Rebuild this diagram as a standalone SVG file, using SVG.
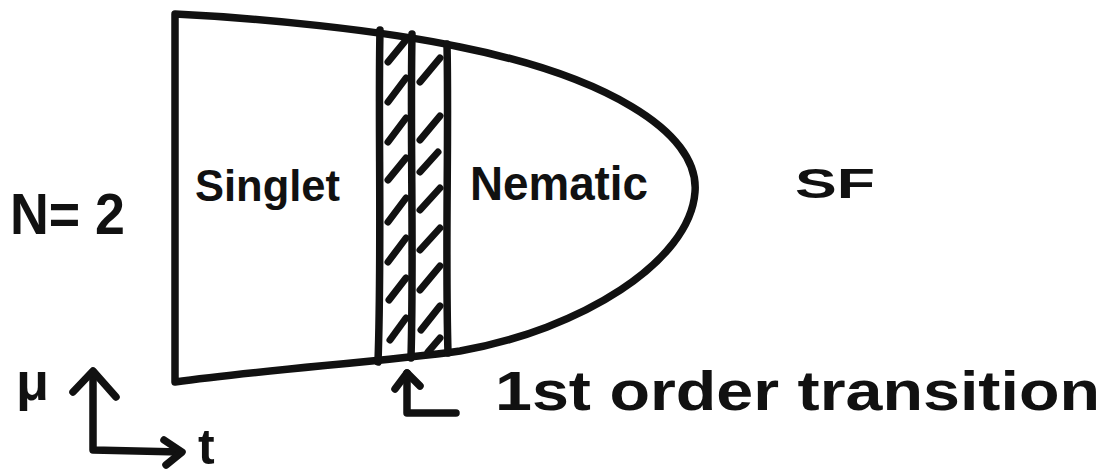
<svg xmlns="http://www.w3.org/2000/svg" width="1108" height="476" viewBox="0 0 1108 476">
<style>
.ln{fill:none;stroke:#111;stroke-width:7.5;stroke-linecap:round;stroke-linejoin:round}
.ht{fill:none;stroke:#111;stroke-width:7;stroke-linecap:round}
.tx{font-family:"Liberation Sans",Arial,sans-serif;font-weight:bold;fill:#111}
</style>
<rect width="1108" height="476" fill="#fff"/>
<g id="phase-boundary">
<path class="ln" d="M175,14 C260,18 380,30 460,47 C600,75 700,130 695,192 C690,262 580,330 460,351 C380,362 260,370 175,382 Z"/>
</g>
<g id="transition-strip">
<path class="ln" d="M380,30 C378,120 382,250 378,362"/>
<path class="ln" d="M412,34 C410,140 414,250 411,358"/>
<path class="ln" d="M447,44 C449,140 445,250 448,353"/>
<g class="ht">
<line x1="388" y1="62" x2="406" y2="40"/>
<line x1="388" y1="102" x2="406" y2="78"/>
<line x1="388" y1="142" x2="406" y2="118"/>
<line x1="388" y1="180" x2="406" y2="158"/>
<line x1="388" y1="222" x2="406" y2="198"/>
<line x1="388" y1="262" x2="406" y2="238"/>
<line x1="389" y1="300" x2="406" y2="278"/>
<line x1="390" y1="340" x2="406" y2="318"/>
<line x1="420" y1="82" x2="440" y2="58"/>
<line x1="420" y1="140" x2="440" y2="116"/>
<line x1="420" y1="172" x2="438" y2="152"/>
<line x1="420" y1="210" x2="440" y2="188"/>
<line x1="420" y1="250" x2="440" y2="228"/>
<line x1="420" y1="290" x2="440" y2="266"/>
<line x1="421" y1="330" x2="440" y2="306"/>
<line x1="428" y1="352" x2="440" y2="338"/>
</g>
</g>
<g id="label-singlet"><text class="tx" x="195" y="201" font-size="44" textLength="145" lengthAdjust="spacingAndGlyphs">Singlet</text></g>
<g id="label-nematic"><text class="tx" x="470" y="200" font-size="48" textLength="178" lengthAdjust="spacingAndGlyphs">Nematic</text></g>
<g id="label-sf"><text class="tx" x="795" y="198" font-size="42" textLength="80" lengthAdjust="spacingAndGlyphs">SF</text></g>
<g id="label-n"><text class="tx" x="10" y="234" font-size="58" textLength="115" lengthAdjust="spacingAndGlyphs">N= 2</text></g>
<g id="axes">
<path class="ln" d="M93,372 L93,450 L180,452"/>
<path class="ln" d="M73,392 L93,371 L116,397"/>
<path class="ln" d="M164,440 L182,452 L166,465"/>
<text class="tx" x="16" y="400" font-size="54">μ</text>
<text class="tx" x="198" y="464" font-size="50">t</text>
</g>
<g id="connectors">
<path class="ln" d="M407,373 L407,413 L456,413"/>
<path class="ln" d="M395,389 L407,373 L420,386"/>
</g>
<g id="label-transition"><text class="tx" x="495" y="410" font-size="56" textLength="605" lengthAdjust="spacingAndGlyphs">1st order transition</text></g>
</svg>
